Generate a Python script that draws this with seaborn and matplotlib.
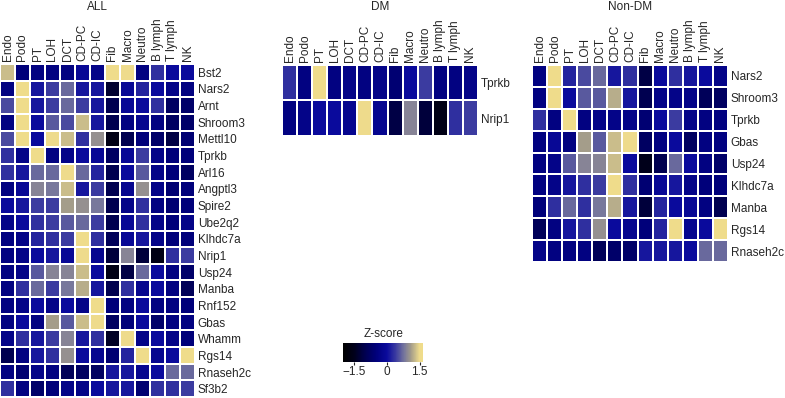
import numpy as np
import pandas as pd
import seaborn as sns
import matplotlib.pyplot as plt
from matplotlib.colors import LinearSegmentedColormap, Normalize
from matplotlib.cm import ScalarMappable

sns.set_style("white")
plt.rcParams['font.family'] = ['Liberation Sans', 'DejaVu Sans']

# tipos celulares (columnas)
celulas = ['Endo', 'Podo', 'PT', 'LOH', 'DCT', 'CD-PC', 'CD-IC', 'Fib',
           'Macro', 'Neutro', 'B lymph', 'T lymph', 'NK']

# genes de cada panel
genes_all = ['Bst2', 'Nars2', 'Arnt', 'Shroom3', 'Mettl10', 'Tprkb', 'Arl16',
             'Angptl3', 'Spire2', 'Ube2q2', 'Klhdc7a', 'Nrip1', 'Usp24', 'Manba',
             'Rnf152', 'Gbas', 'Whamm', 'Rgs14', 'Rnaseh2c', 'Sf3b2']
genes_dm = ['Tprkb', 'Nrip1']
genes_nodm = ['Nars2', 'Shroom3', 'Tprkb', 'Gbas', 'Usp24', 'Klhdc7a', 'Manba',
              'Rgs14', 'Rnaseh2c']

# Z-scores (aprox.)
z_all = [
    [1.3, -0.5, -0.4, -0.4, -0.4, -0.1, -0.3, 1.6, 1.5, -0.4, 0.3, 0.0, 0.0],
    [-0.4, 1.6, 0.1, 0.4, 0.7, 0.1, 0.1, -1.3, -0.1, 0.2, 0.0, -0.3, -0.4],
    [0.5, 1.6, 0.1, 0.4, 0.7, 0.4, 0.1, -1.0, -0.1, 0.0, 0.3, -0.8, -0.7],
    [-0.4, 1.6, 0.0, 0.6, 0.5, 1.3, 0.1, -1.0, -0.4, -0.2, -0.4, -0.8, -0.7],
    [0.5, 1.6, 0.0, 1.5, 1.3, 0.3, 1.0, -1.6, -1.0, -0.5, -0.7, -1.1, -0.6],
    [0.3, -0.3, 1.6, -0.4, -0.3, 0.0, -0.1, -0.8, -0.1, 0.4, -0.3, -0.5, -0.5],
    [0.3, 0.1, 0.7, 0.7, 1.5, 0.7, 0.2, -1.0, 0.0, 0.6, -0.3, -0.5, -0.8],
    [-0.4, -0.1, 0.9, 0.8, 1.3, 0.1, 0.4, -1.0, -0.2, 1.0, -0.3, -0.6, -0.5],
    [0.0, 0.1, 0.4, 0.4, 1.1, 1.0, 0.8, -1.0, -0.3, 0.3, -0.4, -0.6, -0.5],
    [-0.3, 0.0, 0.3, 0.4, 0.6, 0.7, 0.4, -1.0, -0.1, 0.3, -0.3, -0.5, -0.3],
    [-0.4, -0.3, 0.2, 0.3, 0.4, 1.6, 0.3, -0.9, -0.1, 0.1, -0.3, -0.5, -0.5],
    [-0.4, -0.3, 0.0, 0.1, -0.1, 1.5, -0.2, -1.2, 0.9, -1.2, -1.6, 0.3, 0.4],
    [-0.4, -0.3, 0.6, 0.9, 0.9, 1.3, 0.0, -1.6, -1.1, 0.7, 0.0, -0.4, -0.7],
    [-0.4, 0.3, 0.7, 0.4, 0.8, 1.2, 0.1, -1.0, 0.3, -0.2, 0.0, -0.4, -0.9],
    [-0.4, -0.3, 0.0, -0.3, 0.0, -0.3, 1.6, -0.5, -0.4, 0.0, -0.4, -0.4, -0.5],
    [-0.4, 0.0, -0.4, 1.1, 0.6, 1.3, 1.5, -0.8, -0.5, 0.0, -0.7, -0.4, -0.4],
    [-0.3, 0.3, 0.1, 0.4, 0.9, 0.1, 0.3, -1.4, 1.5, -0.3, 0.0, -0.3, -0.5],
    [-1.0, -0.4, 0.1, 0.3, 1.0, 0.0, -0.2, -0.6, 0.2, 1.6, -0.2, 0.0, 1.6],
    [-0.4, -0.6, -0.3, -0.4, -0.9, -0.8, -0.8, 0.1, 0.1, -0.2, 0.0, 0.7, 0.7],
    [0.3, -0.4, -0.7, -0.5, -0.3, -0.3, 0.0, 0.1, 0.1, -0.6, 0.3, 0.3, 0.4],
]
z_dm = [
    [0.3, -0.4, 1.6, -0.4, -0.3, -0.4, -0.3, -0.6, 0.0, 0.4, -0.4, -0.4, -0.3],
    [-0.4, -0.3, 0.0, 0.0, -0.2, 1.5, -0.2, -1.1, 0.9, -1.2, -1.6, 0.3, 0.4],
]
z_nodm = [
    [-0.4, 1.6, 0.2, 0.5, 0.7, 0.1, 0.3, -1.1, 0.0, 0.3, 0.1, 0.0, -0.3],
    [-0.4, 1.6, 0.0, 0.6, 0.6, 1.2, 0.1, -1.0, -0.3, -0.3, -0.3, -0.9, -0.8],
    [0.3, -0.4, 1.6, -0.4, -0.3, -0.3, -0.3, -0.6, 0.0, 0.4, -0.3, -0.4, -0.4],
    [-0.4, -0.1, -0.4, 1.1, 0.6, 1.3, 1.5, -0.8, -0.4, 0.0, -0.8, -0.4, -0.4],
    [-0.4, -0.3, 0.6, 0.9, 0.9, 1.3, 0.0, -1.5, -1.0, 0.7, 0.0, -0.4, -0.7],
    [-0.4, -0.3, 0.1, 0.3, 0.4, 1.6, 0.3, -0.6, -0.1, 0.1, -0.3, -0.5, -0.5],
    [-0.5, 0.3, 0.7, 0.3, 0.8, 1.2, 0.1, -1.2, 0.2, 0.0, -0.1, -0.4, -1.0],
    [-0.9, -0.4, 0.1, 0.3, 1.0, 0.0, -0.2, -0.5, 0.2, 1.6, -0.2, 0.0, 1.6],
    [-0.3, -0.4, -0.4, -0.4, -0.9, -0.7, -0.7, 0.1, 0.1, 0.1, 0.0, 0.7, 0.7],
]

# escala de color: negro -> azul marino -> azul -> caqui
vmin, vmax = -2.0, 1.65
puntos = [(-2.0, '#000000'), (-1.5, '#00001a'), (-1.0, '#000050'),
          (-0.5, '#00007a'), (0.0, '#0a0a9c'), (0.4, '#3a3aa0'),
          (0.8, '#77779c'), (1.1, '#a39c8a'), (1.5, '#eedb8c'), (1.65, '#efdc8a')]
cmap = LinearSegmentedColormap.from_list(
    'zs', [((v - vmin) / (vmax - vmin), c) for v, c in puntos])
norm = Normalize(vmin=vmin, vmax=vmax)

W, H = 785, 398
fs = 8.5
fig = plt.figure(figsize=(W / 100, H / 100), dpi=100)


def panel(z, genes, titulo, x0, x1, y0, y1):
    ax = fig.add_axes([x0 / W, 1 - y1 / H, (x1 - x0) / W, (y1 - y0) / H])
    df = pd.DataFrame(z, index=genes, columns=celulas)
    sns.heatmap(df, ax=ax, cmap=cmap, vmin=vmin, vmax=vmax, cbar=False,
                linewidths=1.3, linecolor='white')
    ax.xaxis.tick_top()
    ax.yaxis.tick_right()
    ax.tick_params(length=0, pad=2)
    ax.set_xticklabels(celulas, rotation=90, fontsize=fs)
    ax.set_yticklabels(genes, rotation=0, fontsize=fs)
    ax.set_xlabel('')
    ax.set_ylabel('')
    fig.text((x0 + x1) / 2 / W, 1 - 7 / H, titulo, ha='center', va='center',
             fontsize=fs)
    return ax


panel(z_all, genes_all, 'ALL', 0, 195, 64, 397)
panel(z_dm, genes_dm, 'DM', 282, 478, 65, 136)
panel(z_nodm, genes_nodm, 'Non-DM', 532, 728, 65, 262)

# barra de color
cax = fig.add_axes([343 / W, 1 - 362 / H, 80 / W, 19 / H])
cb = fig.colorbar(ScalarMappable(norm=norm, cmap=cmap), cax=cax,
                  orientation='horizontal', ticks=[-1.5, 0, 1.5])
cb.outline.set_visible(False)
cb.ax.set_xticklabels(['\u22121.5', '0', '1.5'])
cb.ax.tick_params(labelsize=fs, length=2, pad=1)
fig.text(384 / W, 1 - 334 / H, 'Z-score', ha='center', va='center', fontsize=fs)

fig.savefig('out.png', dpi=100)
